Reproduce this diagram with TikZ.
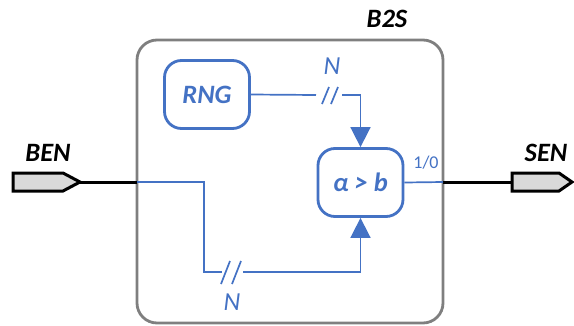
\documentclass[tikz,border=0pt]{standalone}
\usepackage{fontspec}
\setmainfont{Carlito}
\usetikzlibrary{arrows.meta}
\definecolor{blu}{HTML}{4472C4}
\definecolor{gry}{HTML}{7F7F7F}
\definecolor{pin}{HTML}{D9D9D9}
\tikzset{
  blk/.style={draw=blu, line width=2.8pt, rounded corners=17pt, minimum width=85pt, minimum height=68pt, inner sep=0pt, text=blu, font=\fontsize{26.5}{28}\selectfont\bfseries\itshape},
  conn/.style={draw=blu, line width=1.7pt},
  arr/.style={conn, -{Triangle[width=20pt,length=20pt]}},
  pinst/.style={draw=black, line width=3pt, fill=pin, line join=miter},
  wire/.style={draw=black, line width=3pt},
  ttl/.style={font=\fontsize{26.5}{28}\selectfont\bfseries\itshape, text=black, inner sep=0pt},
  nlab/.style={font=\fontsize{26}{28}\selectfont\itshape, text=blu, inner sep=0pt},
  slash/.style={draw=blu, line width=1.7pt}
}
\begin{document}
\begin{tikzpicture}[x=1pt,y=-1pt]
\useasboundingbox (0,0) rectangle (574,325);
% outer block
\node[draw=gry, line width=2.8pt, rounded corners=20pt, minimum width=306pt, minimum height=283pt, inner sep=0pt] (outer) at (290,181.5) {};
\node[ttl] (title) at (387,19) {B2S};
% inner blocks
\node[blk] (rng) at (207,94.5) {RNG};
\node[blk] (cmp) at (360.5,182.5) {α > b};
% ports
\draw[pinst] (13,173) -- (63,173) -- (80,182) -- (63,191) -- (13,191) -- cycle;
\coordinate (bentip) at (80,182);
\node[ttl] (benlab) at (48,153) {BEN};
\draw[pinst] (512,173) -- (559,173) -- (572,182) -- (559,191) -- (512,191) -- cycle;
\coordinate (senbase) at (512,182);
\node[ttl] (senlab) at (546,153) {SEN};
% coordinates on outer border
\coordinate (bin) at (137,182);
\coordinate (bout) at (443,182);
% external wires
\draw[wire] (bentip) -- (bin);
\draw[wire] (bout) -- (senbase);
% RNG to comparator
\coordinate (g1a) at (316,95);
\coordinate (g1b) at (342,95);
\draw[conn] (rng.east) -- (g1a);
\draw[arr] (g1b) -| (cmp.north);
\draw[slash] (322,104) -- (329,87);
\draw[slash] (331,104) -- (338,87);
\node[nlab] (n1) at (332,66) {N};
% input to comparator
\coordinate (c1) at (204,182);
\coordinate (g2a) at (222,272);
\coordinate (g2b) at (243,272);
\draw[conn] (bin) -- (c1) |- (g2a);
\draw[arr] (g2b) -| (cmp.south);
\draw[slash] (221,284) -- (230,261);
\draw[slash] (232,284) -- (241,261);
\node[nlab] (n2) at (232,302) {N};
% comparator output
\draw[conn] (cmp.east) -- (bout);
\node[font=\fontsize{18}{20}\selectfont, text=blu, inner sep=0pt] (bitlab) at (426,163) {1/0};
\end{tikzpicture}
\end{document}
